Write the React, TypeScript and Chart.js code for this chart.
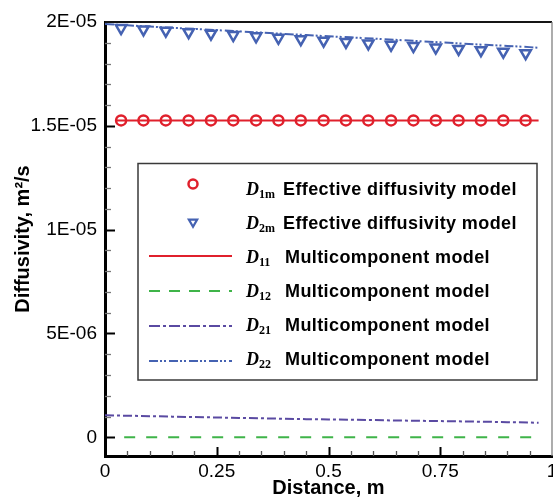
import React, { useEffect, useRef } from 'react';
import { Chart, registerables } from 'chart.js';

Chart.register(...registerables);

// ---- Data ----
const markerX = [0.036, 0.086, 0.136, 0.187, 0.237, 0.287, 0.338, 0.388, 0.438, 0.489, 0.539, 0.589, 0.64, 0.69, 0.74, 0.791, 0.841, 0.891, 0.941];
const d1m = [1.526e-5, 1.526e-5, 1.526e-5, 1.526e-5, 1.526e-5, 1.526e-5, 1.526e-5, 1.526e-5, 1.526e-5, 1.526e-5, 1.526e-5, 1.526e-5, 1.526e-5, 1.526e-5, 1.526e-5, 1.526e-5, 1.526e-5, 1.526e-5, 1.526e-5];
const d2m = [1.971e-5, 1.964e-5, 1.958e-5, 1.951e-5, 1.944e-5, 1.937e-5, 1.931e-5, 1.924e-5, 1.917e-5, 1.91e-5, 1.904e-5, 1.897e-5, 1.89e-5, 1.884e-5, 1.877e-5, 1.87e-5, 1.864e-5, 1.857e-5, 1.85e-5];

const lineX = [0, 0.05, 0.1, 0.15, 0.2, 0.25, 0.3, 0.35, 0.4, 0.45, 0.5, 0.55, 0.6, 0.65, 0.7, 0.75, 0.8, 0.85, 0.9, 0.95, 0.97];
const d21 = [1.06e-6, 1.04e-6, 1.02e-6, 0.995e-6, 0.975e-6, 0.955e-6, 0.935e-6, 0.915e-6, 0.895e-6, 0.875e-6, 0.86e-6, 0.845e-6, 0.83e-6, 0.81e-6, 0.795e-6, 0.78e-6, 0.765e-6, 0.75e-6, 0.73e-6, 0.71e-6, 0.7e-6];
const d22 = [1.99e-5, 1.984e-5, 1.978e-5, 1.972e-5, 1.967e-5, 1.961e-5, 1.955e-5, 1.949e-5, 1.943e-5, 1.937e-5, 1.931e-5, 1.926e-5, 1.92e-5, 1.914e-5, 1.908e-5, 1.902e-5, 1.896e-5, 1.89e-5, 1.885e-5, 1.879e-5, 1.876e-5];

const lineX1 = [0.025, 0.1, 0.2, 0.3, 0.4, 0.5, 0.6, 0.7, 0.8, 0.9, 0.97];
const d11 = [1.526e-5, 1.526e-5, 1.526e-5, 1.526e-5, 1.526e-5, 1.526e-5, 1.526e-5, 1.526e-5, 1.526e-5, 1.526e-5, 1.526e-5];
const d12 = [0, 0, 0, 0, 0, 0, 0, 0, 0, 0, 0];

const xTicks = [0, 0.25, 0.5, 0.75, 1];
const xTickLabels = ['0', '0.25', '0.5', '0.75', '1'];
const yTicks = [0, 5e-6, 1e-5, 1.5e-5, 2e-5];
const yTickLabels = ['0', '5E-06', '1E-05', '1.5E-05', '2E-05'];

const legendMain = ['D', 'D', 'D', 'D', 'D', 'D'];
const legendSub = ['1m', '2m', '11', '12', '21', '22'];
const legendText = [
  'Effective diffusivity model',
  'Effective diffusivity model',
  'Multicomponent model',
  'Multicomponent model',
  'Multicomponent model',
  'Multicomponent model',
];

const RED = '#e0202c';
const BLUE = '#4562b2';
const GREEN = '#3fb449';
const PURPLE = '#5a4aa2';

const SANS = '"Liberation Sans", Arial, sans-serif';
const SERIF = '"Liberation Serif", "Times New Roman", serif';

const pts = (xs: number[], ys: number[]) => xs.map((x, i) => ({ x, y: ys[i] }));

const framePlugin = {
  id: 'frameTicks',
  afterDraw(chart: any) {
    const { ctx, chartArea, scales } = chart;
    const { left, right, top, bottom } = chartArea;
    const xs = scales.x;
    const ys = scales.y;
    ctx.save();
    ctx.strokeStyle = '#151515';
    ctx.lineWidth = 2;
    ctx.beginPath();
    ctx.moveTo(left, top);
    ctx.lineTo(right, top);
    ctx.stroke();
    ctx.strokeStyle = '#808080';
    ctx.lineWidth = 1.3;
    ctx.beginPath();
    ctx.moveTo(right, top);
    ctx.lineTo(right, bottom);
    ctx.stroke();
    for (let k = 1; k < 20; k++) {
      const v = k * 0.05;
      const px = Math.round(xs.getPixelForValue(v)) + 0.5;
      const major = k % 5 === 0;
      ctx.strokeStyle = major ? '#000' : '#555';
      ctx.lineWidth = major ? 2 : 1.3;
      ctx.beginPath();
      ctx.moveTo(px, bottom);
      ctx.lineTo(px, bottom - (major ? 9 : 5));
      ctx.stroke();
    }
    for (let k = 0; k < 20; k++) {
      const v = k * 1e-6;
      const py = Math.round(ys.getPixelForValue(v)) + 0.5;
      const major = k % 5 === 0;
      ctx.strokeStyle = major ? '#000' : '#777';
      ctx.lineWidth = major ? 2 : 1.3;
      ctx.beginPath();
      ctx.moveTo(left, py);
      ctx.lineTo(left + (major ? 10 : 6), py);
      ctx.stroke();
    }
    ctx.restore();
  },
};

const legendPlugin = {
  id: 'customLegend',
  afterDraw(chart: any) {
    const { ctx } = chart;
    const bx = 138, by = 163.5, bw = 399, bh = 216.5;
    ctx.save();
    ctx.fillStyle = '#fff';
    ctx.fillRect(bx, by, bw, bh);
    ctx.strokeStyle = '#3a3a3a';
    ctx.lineWidth = 1.5;
    ctx.strokeRect(bx, by, bw, bh);

    const baselines = [195, 229, 263, 297, 331, 365];
    const symY = [184, 222, 256, 291, 326, 361];
    const styles = [
      { kind: 'circle', color: RED },
      { kind: 'triangle', color: BLUE },
      { kind: 'line', color: RED, dash: [] as number[] },
      { kind: 'line', color: GREEN, dash: [11, 9] },
      { kind: 'line', color: PURPLE, dash: [11, 3, 3, 3] },
      { kind: 'line', color: BLUE, dash: [9, 2, 2, 2, 2, 3] },
    ];
    styles.forEach((s, i) => {
      const cy = symY[i];
      ctx.strokeStyle = s.color;
      if (s.kind === 'circle') {
        ctx.lineWidth = 2.5;
        ctx.beginPath();
        ctx.arc(193, cy, 4.5, 0, Math.PI * 2);
        ctx.stroke();
      } else if (s.kind === 'triangle') {
        const r = 4.8;
        ctx.lineWidth = 2.2;
        ctx.beginPath();
        for (let j = 0; j < 3; j++) {
          const a = Math.PI + j * (2 * Math.PI / 3);
          const px = 193 + Math.sin(a) * r;
          const py = cy - Math.cos(a) * r;
          if (j === 0) ctx.moveTo(px, py); else ctx.lineTo(px, py);
        }
        ctx.closePath();
        ctx.stroke();
      } else {
        ctx.lineWidth = 2.2;
        ctx.setLineDash(s.dash || []);
        ctx.beginPath();
        ctx.moveTo(149, cy);
        ctx.lineTo(232, cy);
        ctx.stroke();
        ctx.setLineDash([]);
      }
      const bl = baselines[i];
      ctx.fillStyle = '#000';
      ctx.textBaseline = 'alphabetic';
      ctx.textAlign = 'left';
      ctx.font = `italic bold 18px ${SERIF}`;
      ctx.fillText(legendMain[i], 246, bl);
      const dw = ctx.measureText(legendMain[i]).width;
      ctx.font = `bold 12px ${SERIF}`;
      ctx.fillText(legendSub[i], 246 + dw, bl + 3);
      ctx.font = `bold 18px ${SANS}`;
      (ctx as any).letterSpacing = '0.4px';
      ctx.fillText(legendText[i], i < 2 ? 283 : 285, bl - 0.5);
      (ctx as any).letterSpacing = '0px';
    });
    ctx.restore();
  },
};

export default function App() {
  const ref = useRef<HTMLCanvasElement | null>(null);
  useEffect(() => {
    document.body.style.margin = '0';
    if (!ref.current) return;
    const chart = new Chart(ref.current, {
      type: 'scatter',
      data: {
        datasets: [
          { label: 'D11', data: pts(lineX1, d11), showLine: true, borderColor: RED, borderWidth: 2, pointRadius: 0 },
          { label: 'D12', data: pts(lineX1, d12), showLine: true, borderColor: GREEN, borderWidth: 2, borderDash: [11, 11], borderDashOffset: 14, pointRadius: 0 },
          { label: 'D21', data: pts(lineX, d21), showLine: true, borderColor: PURPLE, borderWidth: 2, borderDash: [9, 3, 3, 3], pointRadius: 0 },
          { label: 'D22', data: pts(lineX, d22), showLine: true, borderColor: BLUE, borderWidth: 2, borderDash: [9, 2, 2, 2, 2, 3], pointRadius: 0 },
          {
            label: 'D1m', data: pts(markerX, d1m), showLine: false, pointStyle: 'circle', pointRadius: 5,
            pointBorderWidth: 2.5, pointBorderColor: RED, pointBackgroundColor: 'rgba(0,0,0,0)',
          },
          {
            label: 'D2m', data: pts(markerX, d2m), showLine: false, pointStyle: 'triangle', pointRotation: 180,
            pointRadius: 6, pointBorderWidth: 2.5, pointBorderColor: BLUE, pointBackgroundColor: 'rgba(0,0,0,0)',
          },
        ] as any,
      },
      options: {
        animation: false,
        responsive: false,
        maintainAspectRatio: false,
        layout: { padding: { top: 22, right: 11, left: 0, bottom: 0 } },
        plugins: { legend: { display: false }, tooltip: { enabled: false } },
        scales: {
          x: {
            type: 'linear',
            min: 0,
            max: 1,
            afterBuildTicks: (s: any) => { s.ticks = xTicks.map((v) => ({ value: v })); },
            afterFit: (s: any) => { s.height = 44; },
            ticks: {
              color: '#000', padding: 4, maxRotation: 0,
              font: { family: SANS, size: 19 },
              callback: (v: any) => xTickLabels[xTicks.indexOf(Number(v))],
            },
            grid: { display: false, drawTicks: false },
            border: { display: true, color: '#000', width: 3 },
            title: {
              display: true, text: 'Distance, m', color: '#000',
              font: { family: SANS, size: 20, weight: 'bold' },
              padding: { top: 0, bottom: 0 },
            },
          },
          y: {
            type: 'linear',
            min: -0.9e-6,
            max: 2e-5,
            afterBuildTicks: (s: any) => { s.ticks = yTicks.map((v) => ({ value: v })); },
            afterFit: (s: any) => { s.width = 105; },
            ticks: {
              color: '#000', padding: 8,
              font: { family: SANS, size: 19 },
              callback: (v: any) => {
                const idx = yTicks.findIndex((t) => Math.abs(t - Number(v)) < 1e-12);
                return idx >= 0 ? yTickLabels[idx] : '';
              },
            },
            grid: { display: false, drawTicks: false },
            border: { display: true, color: '#000', width: 3 },
            title: {
              display: true, text: 'Diffusivity, m²/s', color: '#000',
              font: { family: SANS, size: 20, weight: 'bold' },
              padding: { top: 11, bottom: 0 },
            },
          },
        },
      } as any,
      plugins: [framePlugin, legendPlugin],
    });
    return () => chart.destroy();
  }, []);
  return (
    <div style={{ width: 553, height: 500, overflow: 'hidden', position: 'relative' }}>
      <canvas ref={ref} width={563} height={500} style={{ display: 'block', width: 563, height: 500 }} />
    </div>
  );
}
